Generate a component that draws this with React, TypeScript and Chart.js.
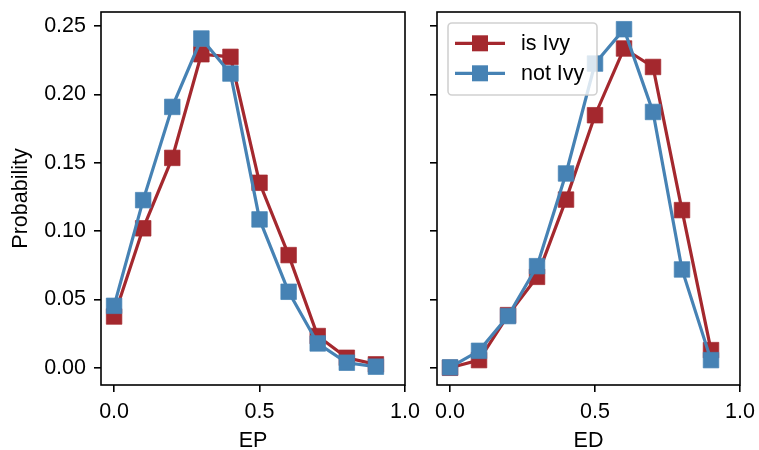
import React, { useEffect, useRef } from 'react';
import { Chart, registerables } from 'chart.js';

Chart.register(...registerables);

// ---- data ----
const xValues = [0, 0.1, 0.2, 0.3, 0.4, 0.5, 0.6, 0.7, 0.8, 0.9];
const epIsIvy = [0.0375, 0.102, 0.1535, 0.2293, 0.2274, 0.1353, 0.0824, 0.0232, 0.0073, 0.0025];
const epNotIvy = [0.0453, 0.1226, 0.1908, 0.2408, 0.2152, 0.1085, 0.0556, 0.0178, 0.0037, 0.0008];
const edIsIvy = [0.0, 0.0056, 0.0385, 0.0665, 0.123, 0.1847, 0.2335, 0.22, 0.1153, 0.0129];
const edNotIvy = [0.0003, 0.0124, 0.0378, 0.0743, 0.1421, 0.2225, 0.2476, 0.1871, 0.0719, 0.0056];
const xTicks = [0, 0.5, 1.0];
const yTicks = [0, 0.05, 0.1, 0.15, 0.2, 0.25];
const seriesLabels = ['is Ivy', 'not Ivy'];
const xTitles = ['EP', 'ED'];
const yTitle = 'Probability';

const RED = '#a4282e';
const BLUE = '#4682b4';
const FONT = "'Liberation Sans', Arial, Helvetica, sans-serif";
const FS = 21.5;

const W = 759;
const H = 450;

type Panel = {
  red: number[];
  blue: number[];
  xTitle: string;
  showYLabels: boolean;
  showLegend: boolean;
  areaLeft: number;
  areaRight: number;
  yAxisWidth: number;
};

const panels: Panel[] = [
  { red: epIsIvy, blue: epNotIvy, xTitle: xTitles[0], showYLabels: true, showLegend: false, areaLeft: 101, areaRight: 405, yAxisWidth: 101 },
  { red: edIsIvy, blue: edNotIvy, xTitle: xTitles[1], showYLabels: false, showLegend: true, areaLeft: 437, areaRight: 740, yAxisWidth: 17 },
];

const AREA_TOP = 12;
const AREA_BOTTOM = 385;

function toPoints(vals: number[]) {
  return xValues.map((x, i) => ({ x, y: vals[i] }));
}

const framePlugin = {
  id: 'frameAndLegend',
  afterDatasetsDraw(chart: any, _args: any, opts: any) {
    const { ctx, chartArea } = chart;
    ctx.save();
    ctx.strokeStyle = '#000';
    ctx.lineWidth = 1.6;
    ctx.strokeRect(chartArea.left, chartArea.top, chartArea.right - chartArea.left, chartArea.bottom - chartArea.top);
    if (opts && opts.show) {
      const lx = chartArea.left + 11;
      const ly = chartArea.top + 11;
      const lw = 149;
      const lh = 72;
      ctx.beginPath();
      (ctx as any).roundRect(lx, ly, lw, lh, 4);
      ctx.fillStyle = 'rgba(255,255,255,0.8)';
      ctx.fill();
      ctx.strokeStyle = 'rgba(204,204,204,0.9)';
      ctx.lineWidth = 1.6;
      ctx.stroke();
      const colors = [RED, BLUE];
      seriesLabels.forEach((label, i) => {
        const cy = ly + 20.3 + i * 30;
        ctx.strokeStyle = colors[i];
        ctx.lineWidth = 3.2;
        ctx.beginPath();
        ctx.moveTo(lx + 7, cy);
        ctx.lineTo(lx + 57, cy);
        ctx.stroke();
        ctx.fillStyle = colors[i];
        ctx.fillRect(lx + 32 - 8, cy - 8, 16, 16);
        ctx.fillStyle = '#000';
        ctx.font = `${FS}px ${FONT}`;
        ctx.textBaseline = 'middle';
        ctx.textAlign = 'left';
        ctx.fillText(label, lx + 73, cy + 1);
      });
    }
    ctx.restore();
  },
};

function makeConfig(p: Panel): any {
  const ds = (label: string, vals: number[], color: string, order: number) => ({
    label,
    data: toPoints(vals),
    borderColor: color,
    backgroundColor: color,
    borderWidth: 3.2,
    pointStyle: 'rect',
    pointRadius: 11,
    pointBorderWidth: 1,
    pointBorderColor: color + 'b0',
    pointBackgroundColor: color,
    tension: 0,
    order,
  });
  return {
    type: 'line',
    data: {
      datasets: [ds(seriesLabels[0], p.red, RED, 1), ds(seriesLabels[1], p.blue, BLUE, 0)],
    },
    options: {
      animation: false,
      responsive: false,
      devicePixelRatio: 1,
      events: [],
      layout: {
        padding: { left: p.areaLeft - p.yAxisWidth, right: W - p.areaRight, top: AREA_TOP, bottom: 0 },
      },
      plugins: {
        legend: { display: false },
        tooltip: { enabled: false },
        frameAndLegend: { show: p.showLegend },
      },
      scales: {
        x: {
          type: 'linear',
          min: -0.045,
          max: 1.0,
          afterBuildTicks: (s: any) => { s.ticks = xTicks.map((v) => ({ value: v })); },
          afterFit: (s: any) => { s.height = H - AREA_BOTTOM; s.paddingLeft = 0; s.paddingRight = 0; },
          ticks: {
            callback: (v: number) => v.toFixed(1),
            padding: 7,
            maxRotation: 0,
            autoSkip: false,
            color: '#000',
            font: { family: FONT, size: FS },
          },
          grid: { drawOnChartArea: false, drawTicks: true, tickLength: 7, color: '#000', lineWidth: 1.6 },
          border: { display: false },
          title: {
            display: true,
            text: p.xTitle,
            color: '#000',
            font: { family: FONT, size: FS, lineHeight: 0.8 },
            padding: { top: 0, bottom: 0 },
          },
        },
        y: {
          type: 'linear',
          min: -0.0126,
          max: 0.2602,
          afterBuildTicks: (s: any) => { s.ticks = yTicks.map((v) => ({ value: v })); },
          afterFit: (s: any) => { s.width = p.yAxisWidth; s.paddingTop = 0; s.paddingBottom = 0; },
          ticks: {
            callback: (v: number) => (p.showYLabels ? v.toFixed(2) : ''),
            padding: 8,
            autoSkip: false,
            color: '#000',
            font: { family: FONT, size: FS },
          },
          grid: { drawOnChartArea: false, drawTicks: true, tickLength: 7, color: '#000', lineWidth: 1.6 },
          border: { display: false },
          title: {
            display: p.showYLabels,
            text: yTitle,
            color: '#000',
            font: { family: FONT, size: FS, lineHeight: 1.0 },
            padding: { top: 10, bottom: 0 },
          },
        },
      },
    },
    plugins: [framePlugin],
  };
}

function PanelChart({ panel }: { panel: Panel }) {
  const ref = useRef<HTMLCanvasElement | null>(null);
  useEffect(() => {
    if (!ref.current) return;
    const chart = new Chart(ref.current, makeConfig(panel));
    return () => chart.destroy();
  }, [panel]);
  return (
    <canvas
      ref={ref}
      width={W}
      height={H}
      style={{ position: 'absolute', left: 0, top: 0, width: W, height: H }}
    />
  );
}

export default function App() {
  return (
    <div style={{ position: 'fixed', left: 0, top: 0, width: W, height: H, background: '#fff' }}>
      {panels.map((p, i) => (
        <PanelChart key={i} panel={p} />
      ))}
    </div>
  );
}
